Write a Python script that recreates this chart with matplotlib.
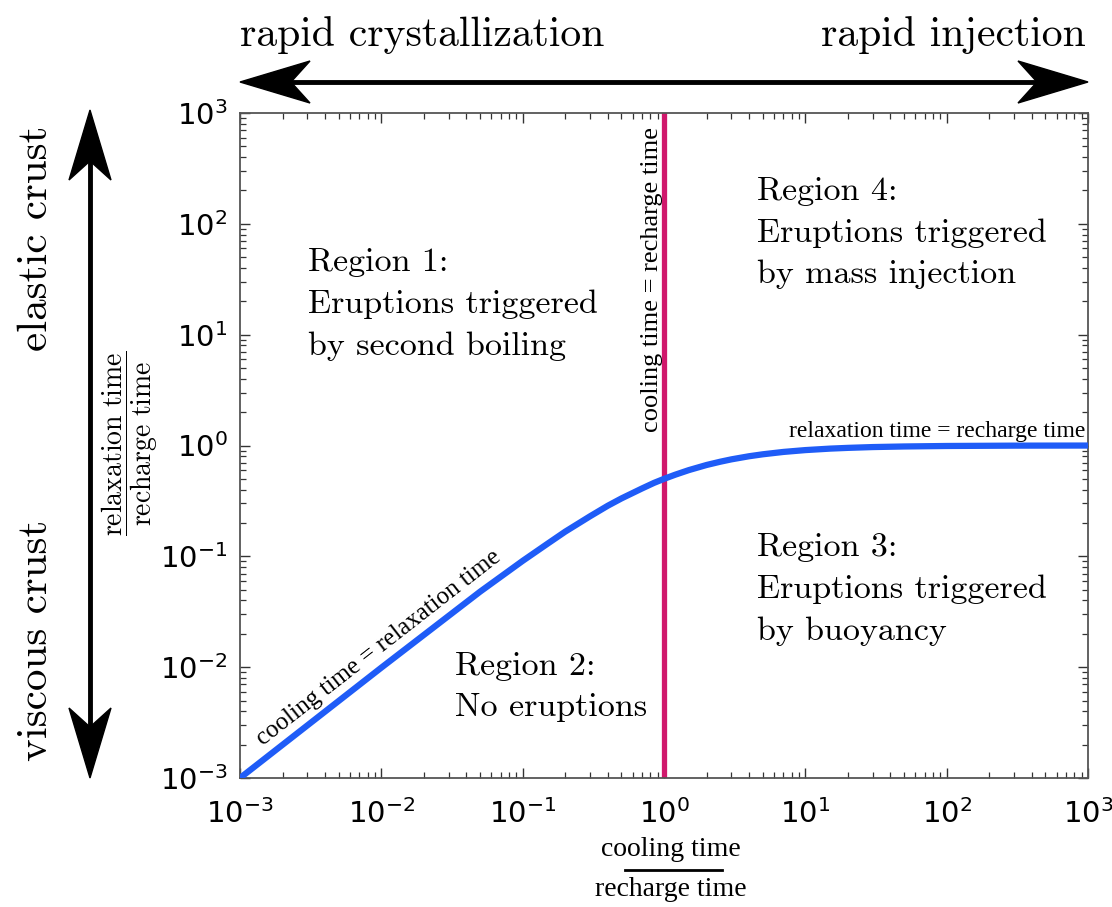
import numpy as np
import matplotlib
matplotlib.use('Agg')
import matplotlib.pyplot as plt
from matplotlib.patches import Polygon
from matplotlib.lines import Line2D
from matplotlib.ticker import LogLocator, FuncFormatter, NullFormatter

# boundary curve: relaxation/recharge vs cooling/recharge
cool_ratio = [1e-3, 1e-2, 0.05, 0.1, 0.15, 0.2, 0.3, 0.4, 0.5, 0.7, 0.85, 1.0, 1.2, 1.5, 2.0,
              2.5, 3.0, 4.0, 5.0, 7.0, 10.0, 15.0, 20.0, 30.0, 50.0, 100.0, 300.0, 1000.0]
relax_ratio = [0.001, 0.0099, 0.048, 0.091, 0.13, 0.167, 0.23, 0.286, 0.333, 0.41, 0.46, 0.5, 0.545, 0.6, 0.667,
               0.714, 0.75, 0.8, 0.833, 0.875, 0.909, 0.9375, 0.952, 0.968, 0.98, 0.99, 0.997, 0.999]
cool_eq_recharge = 1.0
decades = [-3, -2, -1, 0, 1, 2, 3]

regions = [
    ("Region 1:\nEruptions triggered\nby second boiling", 0.080, 0.797),
    ("Region 2:\nNo eruptions", 0.254, 0.189),
    ("Region 3:\nEruptions triggered\nby buoyancy", 0.610, 0.368),
    ("Region 4:\nEruptions triggered\nby mass injection", 0.610, 0.904),
]

W, H = 1112, 907
BLUE = '#1f5cf7'
RED = '#d0186c'
CM = 'cmr10'
TIMES = 'Liberation Serif'

fig = plt.figure(figsize=(W / 100, H / 100), dpi=100)
ax = fig.add_axes([240 / W, 1 - 778 / H, 848 / W, 665 / H])

ax.plot(cool_ratio, relax_ratio, color=BLUE, lw=4.5, solid_capstyle='butt',
        solid_joinstyle='round', zorder=3)
ax.axvline(cool_eq_recharge, color=RED, lw=3.8, zorder=2)

ax.set_xscale('log')
ax.set_yscale('log')
ax.set_xlim(10.0 ** decades[0], 10.0 ** decades[-1])
ax.set_ylim(10.0 ** decades[0], 10.0 ** decades[-1])

fmt = FuncFormatter(lambda v, p: r'$10^{%d}$' % round(np.log10(v)))
for a in (ax.xaxis, ax.yaxis):
    a.set_major_locator(LogLocator(base=10, numticks=10))
    a.set_minor_locator(LogLocator(base=10, subs=np.arange(2, 10), numticks=10))
    a.set_major_formatter(fmt)
    a.set_minor_formatter(NullFormatter())
ax.tick_params(which='both', direction='in', top=True, right=True, color='#333333')
ax.tick_params(which='major', length=7, width=1.0, labelsize=21)
ax.tick_params(axis='x', which='major', pad=15)
ax.tick_params(axis='y', which='major', pad=9)
ax.tick_params(which='minor', length=4.5, width=0.9)
for lab in ax.get_xticklabels() + ax.get_yticklabels():
    lab.set_math_fontfamily('dejavusans')
for s in ax.spines.values():
    s.set_color('#555555')
    s.set_linewidth(1.3)

# region labels
for txt, xf, yf in regions:
    ax.text(xf, yf, txt, transform=ax.transAxes, family=CM, fontsize=24.5,
            ha='left', va='top', linespacing=1.52)

# line annotations
ax.text(0.9965, 0.513, 'relaxation time = recharge time', transform=ax.transAxes,
        family=TIMES, fontsize=17, ha='right', va='baseline')
ax.text(0.486, 0.749, 'cooling time = recharge time', transform=ax.transAxes,
        family=TIMES, fontsize=19, ha='center', va='center', rotation=90)
ax.text(0.164, 0.195, 'cooling time = relaxation time', transform=ax.transAxes,
        family=TIMES, fontsize=18, ha='center', va='center', rotation=38,
        rotation_mode='anchor')

# axis labels
fig.text(130 / W, 1 - 443 / H, r'$\dfrac{\mathrm{relaxation\ time}}{\mathrm{recharge\ time}}$',
         fontsize=20, rotation=90, ha='center', va='center', math_fontfamily='cm')
fig.text(671 / W, 1 - 850 / H, 'cooling time', family=TIMES, fontsize=20, ha='center', va='center')
fig.text(671 / W, 1 - 889 / H, 'recharge time', family=TIMES, fontsize=20, ha='center', va='center')
fig.add_artist(Line2D([625 / W, 722 / W], [1 - 870 / H, 1 - 870 / H], color='black', lw=2,
                      transform=fig.transFigure))

# outer labels
fig.text(240 / W, 1 - 46 / H, 'rapid crystallization', family=CM, fontsize=30, ha='left', va='baseline')
fig.text(1086 / W, 1 - 46 / H, 'rapid injection', family=CM, fontsize=30, ha='right', va='baseline')
fig.text(36 / W, 1 - 238 / H, 'elastic crust', family=CM, fontsize=31, rotation=90, ha='center', va='center')
fig.text(36 / W, 1 - 640 / H, 'viscous crust', family=CM, fontsize=31, rotation=90, ha='center', va='center')


def head(tip, direction, L=70, Wd=42, notch=51):
    t = np.array(tip, float)
    u = np.array(direction, float)
    n = np.array([-u[1], u[0]])
    pts = [t, t - L * u + Wd / 2 * n, t - notch * u, t - L * u - Wd / 2 * n]
    pts = [(p[0] / W, 1 - p[1] / H) for p in pts]
    fig.add_artist(Polygon(pts, closed=True, color='black', transform=fig.transFigure))


def double_arrow(p0, p1):
    p0 = np.array(p0, float)
    p1 = np.array(p1, float)
    u = (p1 - p0) / np.linalg.norm(p1 - p0)
    a = p0 + 45 * u
    b = p1 - 45 * u
    fig.add_artist(Line2D([a[0] / W, b[0] / W], [1 - a[1] / H, 1 - b[1] / H], color='black',
                          lw=3.5, transform=fig.transFigure))
    head(p0, -u)
    head(p1, u)


double_arrow((240, 82), (1088, 82))
double_arrow((90, 110), (90, 778))

fig.savefig('out.png', dpi=100)
